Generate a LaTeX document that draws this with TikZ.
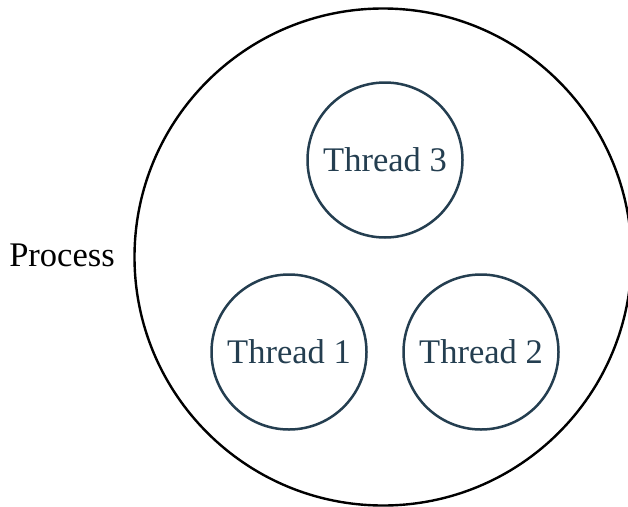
\documentclass[tikz,border=0pt]{standalone}
\usepackage{fontspec}
\setmainfont{Liberation Serif}
\usepackage{xcolor}
\definecolor{thslate}{RGB}{36,62,80}

\begin{document}
\begin{tikzpicture}[x=1pt,y=-1pt,
    proc/.style={circle,draw,line width=2.4pt,minimum size=497pt,inner sep=0pt},
    thr/.style={circle,draw=thslate,text=thslate,line width=2.5pt,minimum size=155pt,inner sep=0pt,
      font=\fontsize{34.5}{40}\selectfont},
    lbl/.style={font=\fontsize{34.5}{40}\selectfont}]
    \useasboundingbox (0,0) rectangle (628,506);
    \node[proc] (P) at (383,257) {};
    \node[lbl] (PL) at (62,255) {Process};
    \node[thr] (T3) at (385,160) {Thread 3};
    \node[thr] (T1) at (289,352) {Thread 1};
    \node[thr] (T2) at (481,352) {Thread 2};
  \end{tikzpicture}
\end{document}
